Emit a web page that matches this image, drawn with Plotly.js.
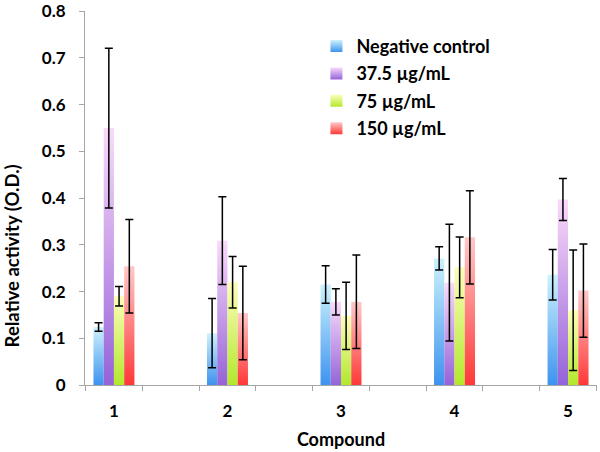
<!DOCTYPE html>
<html><head><meta charset="utf-8">
<script src="https://cdn.plot.ly/plotly-3.0.1.min.js"></script>
<style>html,body{margin:0;padding:0;background:#fff}</style>
</head><body><div id="chart" style="width:600px;height:452px"></div>
<script>
// ---- data ----
const compounds = [1, 2, 3, 4, 5];
const compoundLabels = ['1', '2', '3', '4', '5'];
const seriesNames = ['Negative control', '37.5 µg/mL', '75 µg/mL', '150 µg/mL'];

const negControl    = [0.124, 0.111, 0.215, 0.271, 0.236];
const negControlErr = [0.009, 0.074, 0.040, 0.025, 0.054];

const dose375    = [0.550, 0.309, 0.178, 0.219, 0.397];
const dose375Err = [0.171, 0.094, 0.028, 0.125, 0.045];

const dose75    = [0.190, 0.220, 0.148, 0.252, 0.160];
const dose75Err = [0.021, 0.055, 0.072, 0.065, 0.129];

const dose150    = [0.254, 0.154, 0.178, 0.316, 0.202];
const dose150Err = [0.100, 0.100, 0.100, 0.100, 0.100];

const yTickVals = [0, 0.1, 0.2, 0.3, 0.4, 0.5, 0.6, 0.7, 0.8];
const yTickText = ['0', '0.1', '0.2', '0.3', '0.4', '0.5', '0.6', '0.7', '0.8'];

// ---- styles ----
const baseColors = ['#7ab8f2', '#b490e0', '#d8ef6a', '#ff7b7b'];
const gradStops = [
  ['#3d93ef', '#cdf2fc'],
  ['#9563d8', '#fadafa'],
  ['#b2e82c', '#fdfdba'],
  ['#ff3838', '#ffc8c8']
];
const values = [negControl, dose375, dose75, dose150];
const errors = [negControlErr, dose375Err, dose75Err, dose150Err];

const FAM = 'Lato, "Open Sans", sans-serif';
const tickFont = {family: FAM, size: 17, color: '#000', weight: 'bold'};
const titleFont = {family: FAM, size: 18, color: '#000', weight: 'bold'};
const yTitleFont = {family: FAM, size: 18.5, color: '#000', weight: 'bold'};
const legendFont = {family: FAM, size: 18, color: '#000', weight: 'bold'};
const axisGrey = '#a6a6a6';

const traces = seriesNames.map((name, i) => ({
  type: 'bar',
  name: name,
  x: compounds,
  y: values[i],
  marker: {color: baseColors[i], line: {width: 0}},
  error_y: {type: 'data', array: errors[i], visible: true, color: '#000', thickness: 1.5, width: 4},
  legendgroup: 'g' + i,
  hoverinfo: 'skip'
}));

const layout = {
  width: 600, height: 452,
  margin: {l: 85, r: 3, t: 11, b: 67},
  paper_bgcolor: '#fff', plot_bgcolor: '#fff',
  font: tickFont,
  barmode: 'group', bargap: 0.639, bargroupgap: 0,
  showlegend: true,
  legend: {
    x: 0.452, y: 0.955, xanchor: 'left', yanchor: 'top',
    font: legendFont, tracegroupgap: 1, bgcolor: 'rgba(0,0,0,0)', borderwidth: 0
  },
  xaxis: {
    range: [0.745, 5.255],
    tickmode: 'array', tickvals: compounds, ticktext: compoundLabels,
    ticks: '', showline: true, linecolor: axisGrey, linewidth: 1,
    showgrid: false, zeroline: false,
    tickfont: tickFont, ticklabelstandoff: 11, ticklabeloverflow: 'allow',
    minor: {
      tickmode: 'array',
      tickvals: compounds.flatMap(c => [c - 0.25, c + 0.25]),
      ticks: 'outside', ticklen: 5, tickcolor: axisGrey, tickwidth: 1, showgrid: false
    },
    title: {text: 'Compound', font: titleFont, standoff: 12}
  },
  yaxis: {
    range: [0, 0.8005], tickmode: 'array', tickvals: yTickVals, ticktext: yTickText,
    ticks: 'outside', ticklen: 5, tickcolor: axisGrey, tickwidth: 1,
    showline: true, linecolor: axisGrey, linewidth: 1,
    showgrid: false, zeroline: false,
    tickfont: tickFont, ticklabelstandoff: 10, ticklabeloverflow: 'allow'
  },
  annotations: [{
    text: 'Relative activity (O.D.)', textangle: -90,
    xref: 'paper', yref: 'paper', x: -0.143, y: 0.346,
    xanchor: 'center', yanchor: 'middle', showarrow: false, font: yTitleFont
  }]
};

Plotly.newPlot('chart', traces, layout, {staticPlot: true, displayModeBar: false}).then(gd => {
  const NS = 'http://www.w3.org/2000/svg';
  const svg = gd.querySelector('.main-svg');
  let defs = svg.querySelector('defs');
  if (!defs) { defs = document.createElementNS(NS, 'defs'); svg.insertBefore(defs, svg.firstChild); }
  gradStops.forEach((g, i) => {
    const lg = document.createElementNS(NS, 'linearGradient');
    lg.setAttribute('id', 'barGrad' + i);
    lg.setAttribute('x1', '0'); lg.setAttribute('y1', '1');
    lg.setAttribute('x2', '0'); lg.setAttribute('y2', '0');
    [[0, g[0]], [1, g[1]]].forEach(([off, col]) => {
      const s = document.createElementNS(NS, 'stop');
      s.setAttribute('offset', off);
      s.setAttribute('stop-color', col);
      lg.appendChild(s);
    });
    defs.appendChild(lg);
  });
  gd.querySelectorAll('.barlayer .trace').forEach((t, i) => {
    t.querySelectorAll('.points .point path').forEach(p => { p.style.fill = 'url(#barGrad' + i + ')'; });
  });
  gd.querySelectorAll('.legend .traces').forEach((t, i) => {
    t.querySelectorAll('.legendpoints path').forEach(p => { p.style.fill = 'url(#barGrad' + i + ')'; });
  });
});
</script>
</body></html>
